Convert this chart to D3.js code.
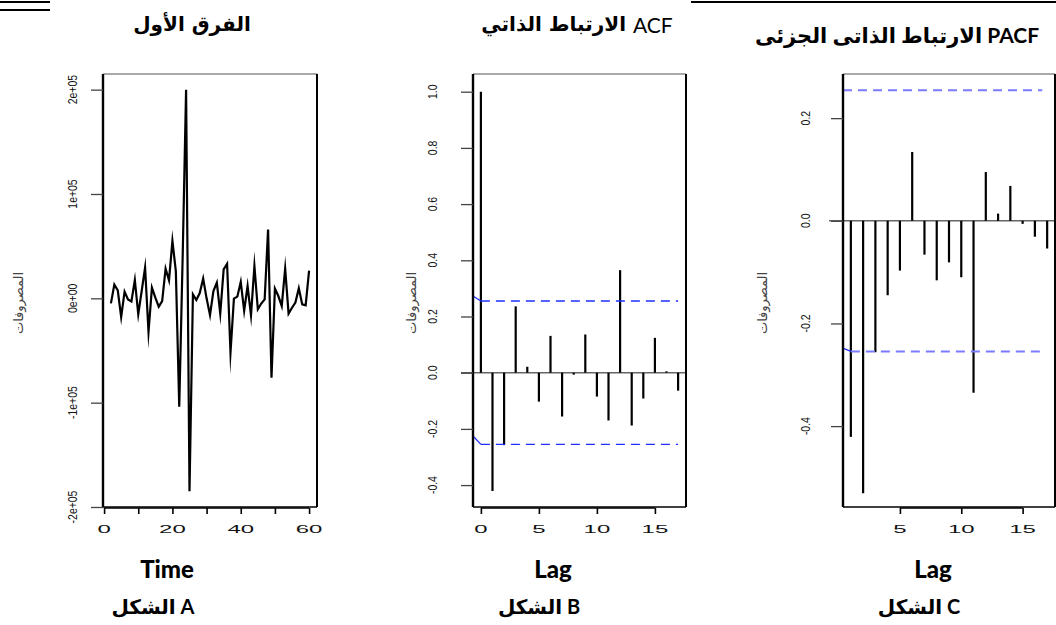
<!DOCTYPE html>
<html>
<head>
<meta charset="utf-8">
<script src="https://cdn.jsdelivr.net/npm/d3@7"></script>
<style>
  html, body { margin: 0; padding: 0; background: #fff; }
  svg { display: block; }
</style>
</head>
<body>
<svg id="chart" width="1056" height="625"></svg>
<script>
// ---- first difference of expenditures (time 2..60) ----
const diffTime = d3.range(2, 61);
const diffValues = [
  -4800, 13100, 7700, -17900, 6400, -1000, -3000, 17600, -15300, 7000,
  29400, -32300, 10200, 600, -8000, -2600, 28400, 17300, 55000, 26000,
  -104000, 40000, 200000, -185000, 3800, -1600, 5000, 19000, 0, -16000,
  7000, 15000, -14700, 27800, 33000, -52000, -300, 1600, 15700, -12000,
  11800, -16300, 31000, -10500, -5000, -1000, 66000, -76000, 9300, 2200,
  -7300, 28400, -14700, -9000, -4000, 9600, -5800, -6800, 26500
];

// ---- autocorrelation, lags 0..17 ----
const acfLags = d3.range(0, 18);
const acfValues = [1.0, -0.421, -0.258, 0.236, 0.021, -0.103, 0.131, -0.156, -0.007,
  0.136, -0.085, -0.170, 0.365, -0.188, -0.092, 0.124, 0.005, -0.064];
const acfLimit = 0.2552;

// ---- partial autocorrelation, lags 1..17 ----
const pacfLags = d3.range(1, 18);
const pacfValues = [-0.421, -0.531, -0.256, -0.145, -0.097, 0.134, -0.066, -0.116,
  -0.081, -0.110, -0.335, 0.095, 0.014, 0.068, -0.006, -0.031, -0.054];
const pacfLimit = 0.2545;

// ---- axis ticks and labels ----
const timeTicks = [0, 10, 20, 30, 40, 50, 60];
const timeTickLabels = ["0", "", "20", "", "40", "", "60"];
const diffTicks = [-200000, -100000, 0, 100000, 200000];
const diffTickLabels = ["-2e+05", "-1e+05", "0e+00", "1e+05", "2e+05"];
const acfLagTicks = [0, 5, 10, 15];
const acfTicks = [-0.4, -0.2, 0.0, 0.2, 0.4, 0.6, 0.8, 1.0];
const acfTickLabels = ["-0.4", "-0.2", "0.0", "0.2", "0.4", "0.6", "0.8", "1.0"];
const pacfLagTicks = [5, 10, 15];
const pacfTicks = [-0.4, -0.2, 0.0, 0.2];
const pacfTickLabels = ["-0.4", "-0.2", "0.0", "0.2"];

// ---- texts ----
const LRM = "\u200E";
const titleA = "الفرق الأول";
const titleBArabic = "الارتباط الذاتي";
const titleBLatin = "ACF";
const titleC = "الارتباط الذاتى الجزئى PACF";
const yLabel = "المصروفات";
const xLabels = ["Time", "Lag", "Lag"];
const figLabels = ["الشكل A", "الشكل B", "الشكل C"];

const svg = d3.select("#chart");
const plotTop = 74, plotBottom = 507;
const tickFont = "'Liberation Sans', Arial, sans-serif";
const arFont = "'DejaVu Sans', 'Liberation Sans', sans-serif";
const latinBold = "Lato, 'Open Sans', sans-serif";

// page rules above the panels
svg.append("line").attr("x1", 0).attr("x2", 50).attr("y1", 2).attr("y2", 2)
  .attr("stroke", "#000").attr("stroke-width", 2);
svg.append("line").attr("x1", 0).attr("x2", 50).attr("y1", 10).attr("y2", 10)
  .attr("stroke", "#000").attr("stroke-width", 2);
svg.append("line").attr("x1", 691).attr("x2", 1056).attr("y1", 2).attr("y2", 2)
  .attr("stroke", "#000").attr("stroke-width", 2.2);

function frame(g, x0, x1) {
  g.append("line").attr("x1", x0).attr("x2", x1).attr("y1", plotTop).attr("y2", plotTop)
    .attr("stroke", "#555").attr("stroke-width", 1.2);
  g.append("line").attr("x1", x1).attr("x2", x1).attr("y1", plotTop).attr("y2", plotBottom)
    .attr("stroke", "#000").attr("stroke-width", 2);
  g.append("line").attr("x1", x0).attr("x2", x1).attr("y1", plotBottom).attr("y2", plotBottom)
    .attr("stroke", "#000").attr("stroke-width", 1.6);
  g.append("line").attr("x1", x0).attr("x2", x0).attr("y1", plotTop).attr("y2", plotBottom)
    .attr("stroke", "#000").attr("stroke-width", 2.4);
}

function xAxis(g, x, ticks, labels) {
  const ax = d3.axisBottom(x).tickValues(ticks).tickSize(6).tickFormat("");
  const a = g.append("g").attr("transform", `translate(0,${plotBottom + 1})`).call(ax);
  a.select(".domain").attr("stroke", "#000").attr("stroke-width", 1.6)
    .attr("d", `M${x(ticks[0])},0H${x(ticks[ticks.length - 1])}`);
  a.selectAll(".tick line").attr("stroke", "#000").attr("stroke-width", 1.6);
  g.selectAll(null).data(ticks).join("text")
    .attr("transform", d => `translate(${x(d)},529) scale(2.4,1)`)
    .attr("text-anchor", "middle").attr("dominant-baseline", "central")
    .attr("font-family", tickFont).attr("font-size", 10).attr("fill", "#111")
    .text((d, i) => labels[i]);
}

function yAxis(g, y, x0, ticks, labels, labelX) {
  const ax = d3.axisLeft(y).tickValues(ticks).tickSize(12).tickFormat("");
  const a = g.append("g").attr("transform", `translate(${x0},0)`).call(ax);
  a.select(".domain").remove();
  a.selectAll(".tick line").attr("stroke", "#444").attr("stroke-width", 1.3);
  g.selectAll(null).data(ticks).join("text")
    .attr("transform", d => `translate(${labelX},${y(d)}) rotate(-90) scale(0.95,1.2)`)
    .attr("text-anchor", "middle").attr("dominant-baseline", "central")
    .attr("font-family", tickFont).attr("font-size", 11).attr("fill", "#111")
    .text((d, i) => labels[i]);
}

function yTitle(g, x) {
  g.append("text").attr("transform", `translate(${x},303) rotate(-90)`)
    .attr("text-anchor", "middle").attr("dominant-baseline", "central")
    .attr("font-family", arFont).attr("font-size", 13).attr("fill", "#444")
    .text(yLabel);
}

function bottomTexts(g, cx, i) {
  g.append("text").attr("x", cx).attr("y", 578).attr("text-anchor", "middle")
    .attr("font-family", latinBold).attr("font-weight", 900).attr("font-size", 24)
    .attr("fill", "#000").text(xLabels[i]);
  g.append("text").attr("x", cx - 14).attr("y", 614).attr("text-anchor", "middle")
    .attr("font-family", `${latinBold.split(",")[0]}, ${arFont}`).attr("font-weight", "bold")
    .attr("font-size", 20).attr("fill", "#000").text(LRM + figLabels[i]);
}

// ===== Panel A: first difference series =====
{
  const g = svg.append("g");
  const x = d3.scaleLinear().domain([-0.32, 62.32]).range([103, 317]);
  const y = d3.scaleLinear().domain([-200000, 215000]).range([plotBottom, plotTop]);
  const line = d3.line().x(d => x(d[0])).y(d => y(d[1]));
  g.append("path").datum(d3.zip(diffTime, diffValues))
    .attr("d", line).attr("fill", "none").attr("stroke", "#000")
    .attr("stroke-width", 2.2).attr("stroke-linejoin", "miter").attr("stroke-miterlimit", 20);
  frame(g, 103, 317);
  xAxis(g, x, timeTicks, timeTickLabels);
  yAxis(g, y, 103, diffTicks, diffTickLabels, 73);
  yTitle(g, 18);
  g.append("text").attr("x", 192).attr("y", 24).attr("text-anchor", "middle")
    .attr("dominant-baseline", "central").attr("font-family", arFont)
    .attr("font-weight", "bold").attr("font-size", 20).attr("fill", "#000").text(titleA);
  bottomTexts(g, 167, 0);
}

// ===== Panel B: ACF =====
{
  const g = svg.append("g");
  const x = d3.scaleLinear().domain([-0.68, 17.68]).range([473, 686]);
  const y = d3.scaleLinear().domain([-0.478, 1.063]).range([plotBottom, plotTop]);
  // zero reference
  g.append("line").attr("x1", 461).attr("x2", 686).attr("y1", y(0)).attr("y2", y(0))
    .attr("stroke", "#666").attr("stroke-width", 1.5);
  g.selectAll(null).data(acfLags).join("line")
    .attr("x1", d => x(d)).attr("x2", d => x(d))
    .attr("y1", y(0)).attr("y2", (d, i) => y(acfValues[i]))
    .attr("stroke", "#000").attr("stroke-width", 2.2);
  // confidence bounds
  [acfLimit, -acfLimit].forEach((c, k) => {
    g.append("line").attr("x1", x(0)).attr("x2", x(17)).attr("y1", y(c)).attr("y2", y(c))
      .attr("stroke", "#1f2fff").attr("stroke-width", 1.3).attr("stroke-dasharray", "9,6");
    g.append("line").attr("x1", x(-0.68)).attr("x2", x(0))
      .attr("y1", y(k === 0 ? c + 0.018 : c + 0.03)).attr("y2", y(c))
      .attr("stroke", "#1f2fff").attr("stroke-width", 1.3);
  });
  frame(g, 473, 686);
  xAxis(g, x, acfLagTicks, acfLagTicks.map(String));
  yAxis(g, y, 473, acfTicks, acfTickLabels, 433);
  yTitle(g, 411);
  const t = g.append("text").attr("x", 577).attr("y", 24).attr("text-anchor", "middle")
    .attr("dominant-baseline", "central").attr("fill", "#000");
  t.append("tspan").attr("font-family", arFont).attr("font-weight", "bold")
    .attr("font-size", 20).text(LRM + titleBArabic + " ");
  t.append("tspan").attr("font-family", "Lato, 'Open Sans', sans-serif")
    .attr("font-size", 21).text(titleBLatin);
  bottomTexts(g, 553, 1);
}

// ===== Panel C: PACF =====
{
  const g = svg.append("g");
  const x = d3.scaleLinear().domain([0.36, 17.64]).range([843, 1055]);
  const y = d3.scaleLinear().domain([-0.5576, 0.286]).range([plotBottom, plotTop]);
  g.append("line").attr("x1", 829).attr("x2", 1056).attr("y1", y(0)).attr("y2", y(0))
    .attr("stroke", "#666").attr("stroke-width", 1.5);
  g.selectAll(null).data(pacfLags).join("line")
    .attr("x1", d => x(d)).attr("x2", d => x(d))
    .attr("y1", y(0)).attr("y2", (d, i) => y(pacfValues[i]))
    .attr("stroke", "#000").attr("stroke-width", 2.2);
  [pacfLimit, -pacfLimit].forEach((c, k) => {
    g.append("line").attr("x1", k === 0 ? x(0.36) : x(1)).attr("x2", x(16.6))
      .attr("y1", y(c)).attr("y2", y(c))
      .attr("stroke", "#7b7bff").attr("stroke-width", 2).attr("stroke-dasharray", "9,6");
    if (k === 1) {
      g.append("line").attr("x1", x(0.3)).attr("x2", x(1))
        .attr("y1", y(c + 0.007)).attr("y2", y(c))
        .attr("stroke", "#1f2fff").attr("stroke-width", 1.2);
    }
  });
  frame(g, 843, 1055);
  xAxis(g, x, pacfLagTicks, pacfLagTicks.map(String));
  yAxis(g, y, 843, pacfTicks, pacfTickLabels, 806);
  yTitle(g, 762);
  g.append("text").attr("x", 897).attr("y", 34).attr("text-anchor", "middle")
    .attr("dominant-baseline", "central").attr("font-family", `Lato, ${arFont}`)
    .attr("font-weight", "bold").attr("font-size", 21).attr("fill", "#000").text(LRM + titleC);
  bottomTexts(g, 933, 2);
}
</script>
</body>
</html>
